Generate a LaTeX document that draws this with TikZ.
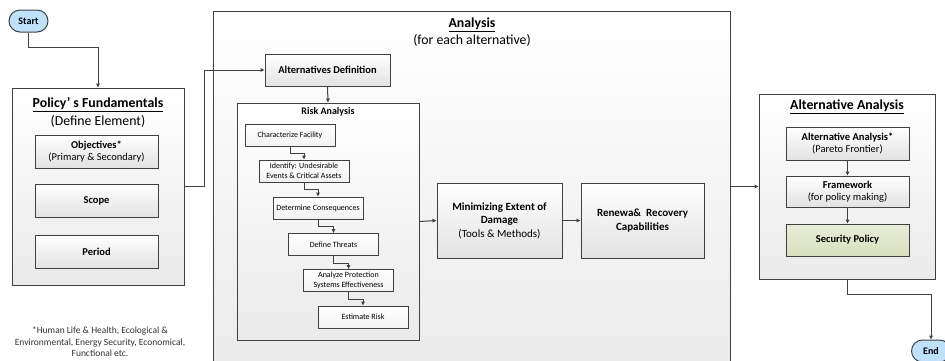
\documentclass[tikz,border=0pt]{standalone}
\usepackage{fontspec}
\setmainfont{Carlito}
\usetikzlibrary{arrows.meta, positioning}
\definecolor{edgegray}{RGB}{64,64,64}
\definecolor{termblue}{RGB}{190,226,252}
\definecolor{policygreen}{RGB}{216,224,190}
\definecolor{panelgray}{RGB}{234,234,234}
\definecolor{boxgray}{RGB}{226,226,226}
\definecolor{notegray}{RGB}{50,50,50}
\tikzset{
  base/.style={draw=edgegray, line width=1pt, align=center, inner sep=2pt},
  panel/.style={base, top color=white, bottom color=panelgray},
  box/.style={base, top color=white, bottom color=boxgray,
              font=\fontsize{10.5}{12.5}\selectfont, minimum width=123pt, minimum height=33pt},
  stepbox/.style={base, top color=white, bottom color=gray!10,
                  font=\fontsize{8}{10}\selectfont, minimum width=90pt, minimum height=22pt},
  terminal/.style={base, rounded corners=11pt, fill=termblue,
                   font=\fontsize{10}{12}\selectfont\bfseries, minimum width=39pt, minimum height=22pt},
  title/.style={align=center, font=\fontsize{13.8}{18.5}\selectfont},
  arr/.style={-{Triangle[length=4pt,width=3.5pt]}, line width=1pt, draw=edgegray},
}

\begin{document}
\begin{tikzpicture}[x=1pt, y=-1pt]
  \clip (0,0) rectangle (945,360);

  % containers
  \node[panel, minimum width=172pt, minimum height=197pt] (policy) at (98,186.5) {};
  \node[panel, minimum width=517pt, minimum height=370pt] (analysis) at (471.5,196) {};
  \node[panel, minimum width=182pt, minimum height=237pt] (risk) at (328,221.5) {};
  \node[panel, minimum width=176pt, minimum height=185pt] (altanalysis) at (847,186.5) {};

  % titles
  \node[title] (policytitle) at (98,112.5) {\textbf{\underline{Policy’ s Fundamentals}}\\(Define Element)};
  \node[title, font=\fontsize{13.8}{17}\selectfont] (analysistitle) at (472,32.5) {\textbf{\underline{Analysis}}\\(for each alternative)};
  \node[font=\fontsize{10}{12}\selectfont\bfseries] (risktitle) at (328,112) {Risk Analysis};
  \node[title] (altanalysistitle) at (847,107) {\textbf{\underline{Alternative Analysis}}};

  \node[terminal] (start) at (28.5,21) {Start};
  \node[terminal] (finish) at (931,351) {End};

  % policy elements
  \node[box] (objectives) at (96.5,151.5) {\textbf{Objectives*}\\(Primary \& Secondary)};
  \node[box] (scope) at (96.5,200.5) {\textbf{Scope}};
  \node[box] (period) at (96.5,251.5) {\textbf{Period}};
  \node[align=center, text=notegray, font=\fontsize{9.5}{11.5}\selectfont] (footnote) at (100,342)
    {*Human Life \& Health, Ecological \&\\Environmental, Energy Security, Economical,\\Functional etc.};

  % analysis
  \node[box, minimum width=125pt, minimum height=32pt] (altdef) at (327.5,70) {\textbf{Alternatives Definition}};
  \node[stepbox] (charfac) at (290,135) {Characterize Facility};
  \node[stepbox] (identify) at (304,171) {Identify: Undesirable\\Events \& Critical Assets};
  \node[stepbox] (conseq) at (318,208) {Determine Consequences};
  \node[stepbox] (threats) at (333.5,244.5) {Define Threats};
  \node[stepbox] (protect) at (348.5,280.5) {Analyze Protection\\Systems Effectiveness};
  \node[stepbox] (estrisk) at (363,317) {Estimate Risk};
  \node[box, minimum width=125pt, minimum height=75pt, font=\fontsize{11}{13.5}\selectfont] (minimize) at (499.5,220.5)
    {\textbf{Minimizing Extent of}\\\textbf{Damage}\\(Tools \& Methods)};
  \node[box, minimum width=123pt, minimum height=75pt, font=\fontsize{11}{13.5}\selectfont] (renewal) at (642.5,220.5)
    {\textbf{Renewa\&\ \ Recovery}\\\textbf{Capabilities}};

  % alternative analysis
  \node[box] (aastar) at (847.5,143.5) {\textbf{Alternative Analysis*}\\(Pareto Frontier)};
  \node[box, minimum height=31pt] (framework) at (847.5,191.5) {\textbf{Framework}\\(for policy making)};
  \node[box, top color=policygreen!60, bottom color=policygreen, minimum height=32pt] (secpolicy) at (847.5,240) {\textbf{Security Policy}};

  % connectors
  \draw[arr] (start.south) -- ++(0,15) -| (policy.north);
  \draw[arr] (policy.east) -- ++(20,0) |- (altdef.west);
  \draw[arr] (altdef.south) -- (risk.north);
  \draw[arr] (charfac.south) -- ++(0,7) -| (identify.north);
  \draw[arr] (identify.south) -- ++(0,7) -| (conseq.north);
  \draw[arr] (conseq.south) -- ++(0,7) -| (threats.north);
  \draw[arr] (threats.south) -- ++(0,7) -| (protect.north);
  \draw[arr] (protect.south) -- ++(0,7) -| (estrisk.north);
  \draw[arr] (risk.east) -- (minimize.west);
  \draw[arr] (minimize.east) -- (renewal.west);
  \draw[arr] (analysis.east |- altanalysis.west) -- (altanalysis.west);
  \draw[arr] (aastar.south) -- (framework.north);
  \draw[arr] (framework.south) -- (secpolicy.north);
  \draw[arr] (altanalysis.south) -- ++(0,15) -| (finish.north);
\end{tikzpicture}
\end{document}
